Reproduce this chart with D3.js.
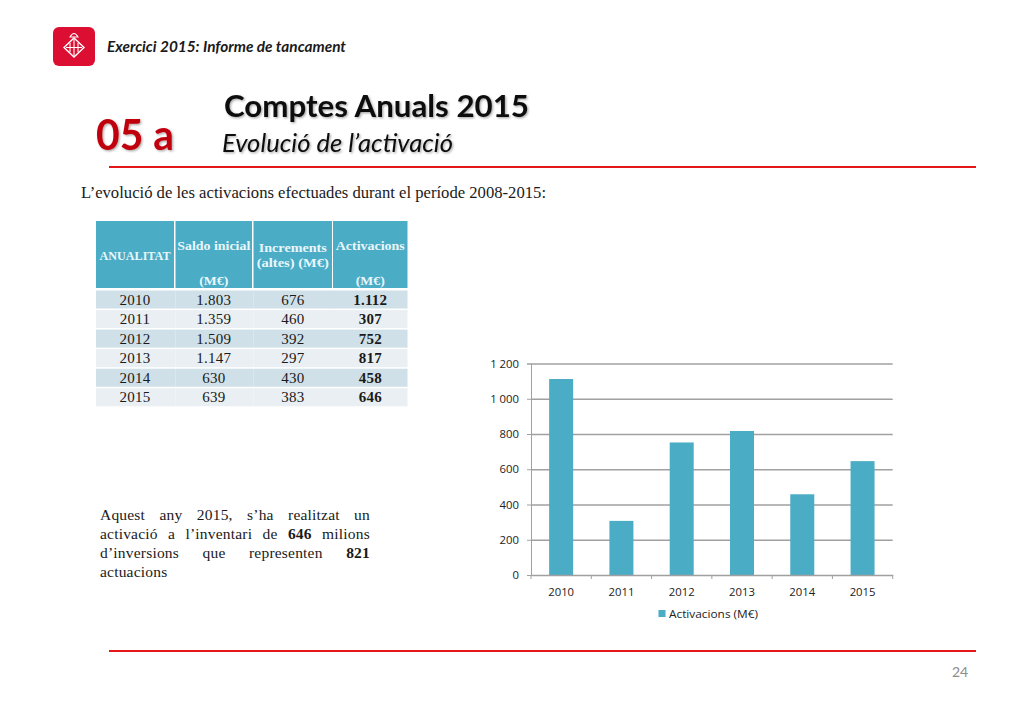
<!DOCTYPE html>
<html><head><meta charset="utf-8">
<script src="https://cdn.jsdelivr.net/npm/d3@7/dist/d3.min.js"></script>
<style>
html,body{margin:0;padding:0;background:#fff;width:1024px;height:709px;overflow:hidden}
svg{position:absolute;left:0;top:0}
.para{position:absolute;left:100px;top:505px;width:270px;font:15.5px/19px "Liberation Serif",serif;letter-spacing:.2px;color:#1a1a1a}
.para div{text-align:justify;text-align-last:justify}
.para div.last{text-align-last:left}
</style></head><body>
<svg id="c" width="1024" height="709"></svg>
<div class="para">
<div>Aquest any 2015, s’ha realitzat un</div>
<div>activació a l’inventari de <b>646</b> milions</div>
<div>d’inversions que representen <b>821</b></div>
<div class="last">actuacions</div>
</div>
<script>
const years=["2010","2011","2012","2013","2014","2015"];
const saldo=["1.803","1.359","1.509","1.147","630","639"];
const increments=["676","460","392","297","430","383"];
const activacionsText=["1.112","307","752","817","458","646"];
const activacions=[1112,307,752,817,458,646];
const yTicks=[0,200,400,600,800,1000,1200];
const seriesName="Activacions (M€)";

const svg=d3.select("#c");
const sans='Lato,"Open Sans",sans-serif', serif='"Liberation Serif",serif';
const defs=svg.append("defs");
const f=defs.append("filter").attr("id","sh").attr("x","-5%").attr("y","-20%").attr("width","115%").attr("height","150%");
f.append("feDropShadow").attr("dx",1.2).attr("dy",1.2).attr("stdDeviation",1).attr("flood-color","#000").attr("flood-opacity",.35);
const fit="spacingAndGlyphs";

// header
svg.append("rect").attr("x",53).attr("y",27).attr("width",42).attr("height",39).attr("rx",6).attr("fill","#dc0f32");
const logo=svg.append("g").attr("fill","none").attr("stroke","#fff");
logo.append("path").attr("d","M74 38 L84 47.5 L74 57 L64 47.5 Z").attr("stroke-width",1.4);
logo.append("path").attr("d","M74 39V56 M66 47.5H82 M70 43V52 M78 43V52").attr("stroke-width",1.1);
logo.append("path").attr("d","M70 37 Q74 30 78 37 Z").attr("stroke-width",1.1);
svg.append("text").attr("x",107).attr("y",52).attr("font-family",sans).attr("font-size",15).attr("font-style","italic").attr("font-weight",700).attr("fill","#1a1a1a").attr("textLength",239).attr("lengthAdjust",fit).text("Exercici 2015: Informe de tancament");
svg.append("text").attr("x",224).attr("y",117).attr("font-family",sans).attr("font-size",31).attr("font-weight",700).attr("fill","#111").attr("filter","url(#sh)").attr("textLength",305).attr("lengthAdjust",fit).text("Comptes Anuals 2015");
svg.append("text").attr("x",222).attr("y",152).attr("font-family",sans).attr("font-size",25).attr("font-style","italic").attr("fill","#111").attr("filter","url(#sh)").attr("textLength",231).attr("lengthAdjust",fit).text("Evolució de l’activació");
svg.append("text").attr("x",96).attr("y",150).attr("font-family",sans).attr("font-size",42).attr("font-weight",700).attr("fill","#c00010").attr("filter","url(#sh)").attr("textLength",78).attr("lengthAdjust",fit).text("05 a");
[167,651].forEach(yy=>svg.append("line").attr("x1",109).attr("x2",976).attr("y1",yy).attr("y2",yy).attr("stroke","#e3161a").attr("stroke-width",2));
svg.append("text").attr("x",81).attr("y",198).attr("font-family",serif).attr("font-size",16).attr("fill","#1a1a1a").attr("textLength",465).attr("lengthAdjust",fit).text("L’evolució de les activacions efectuades durant el període 2008-2015:");
svg.append("text").attr("x",960).attr("y",677).attr("text-anchor","middle").attr("font-family",sans).attr("font-size",14).attr("fill","#8c8c8c").text("24");

// table
const colX=[96,175.5,253.5,333], colW=[78,76.5,78.5,74.5], headH=67;
const teal="#4bacc6";
const tg=svg.append("g");
colX.forEach((x,i)=>tg.append("rect").attr("x",x).attr("y",221).attr("width",colW[i]).attr("height",headH).attr("fill",teal));
const head=[[["ANUALITAT",260,71]],[["Saldo inicial",250,73],["(M€)",285,29]],[["Increments",252,68],["(altes) (M€)",267,72]],[["Activacions",250,69],["(M€)",285,29]]];
head.forEach((ls,i)=>ls.forEach(([t,y,w])=>tg.append("text").attr("x",colX[i]+colW[i]/2).attr("y",y).attr("text-anchor","middle").attr("font-family",serif).attr("font-weight",700).attr("font-size",13).attr("textLength",w).attr("lengthAdjust",fit).attr("fill","#eaf7fa").text(t)));
const rowH=19.55;
years.forEach((yr,r)=>{
  const y=290.5+r*rowH;
  colX.forEach((x,i)=>tg.append("rect").attr("x",x).attr("y",y).attr("width",colW[i]+(i<3?1.5:0)).attr("height",rowH-1.5).attr("fill",r%2?"#e9eff3":"#d0e0e8"));
  [yr,saldo[r],increments[r],activacionsText[r]].forEach((t,i)=>tg.append("text").attr("x",colX[i]+colW[i]/2).attr("y",y+14).attr("text-anchor","middle").attr("font-family",serif).attr("font-size",15).attr("letter-spacing",.25).attr("font-weight",i==3?700:400).attr("fill","#1a1a1a").text(t));
});

// chart
const x=d3.scaleBand().domain(years).range([531,892.7]);
const y=d3.scaleLinear().domain([0,1200]).range([575,363.5]);
const cf=d3.formatLocale({decimal:",",thousands:" ",grouping:[3],currency:["","€"]}).format(",d");
const gc="#a0a0a0";
const chartFont='"Open Sans",sans-serif';
const gy=svg.append("g").attr("transform","translate(531,0)").call(d3.axisLeft(y).tickValues(yTicks).tickSize(4).tickPadding(8).tickFormat(cf));
gy.selectAll(".tick").filter(d=>d>0).append("line").attr("x2",361.7).attr("stroke-width",1.4);
gy.selectAll("path,line").attr("stroke",gc);
gy.selectAll("text").attr("font-family",chartFont).attr("font-size",11.3).attr("fill","#222");
svg.append("g").selectAll("rect").data(activacions).join("rect")
  .attr("x",(d,i)=>x(years[i])+x.bandwidth()/2-12).attr("width",24)
  .attr("y",d=>y(d)).attr("height",d=>y(0)-y(d)).attr("fill",teal);
const gx=svg.append("g").attr("transform","translate(0,575)").call(d3.axisBottom(x).tickSize(0).tickPadding(13));
gx.select(".domain").attr("stroke",gc).attr("stroke-width",1.4);
gx.selectAll("text").attr("font-family",chartFont).attr("font-size",11.3).attr("fill","#222");
gx.selectAll("line.edge").data(d3.range(7)).join("line").attr("class","edge").attr("x1",i=>531+i*x.step()).attr("x2",i=>531+i*x.step()).attr("y1",0).attr("y2",4).attr("stroke",gc);
svg.append("rect").attr("x",658.5).attr("y",610).attr("width",7).attr("height",7).attr("fill",teal);
svg.append("text").attr("x",669).attr("y",618).attr("font-family",chartFont).attr("font-size",11.3).attr("fill","#222").attr("textLength",89).attr("lengthAdjust",fit).text(seriesName);
</script>
</body></html>
